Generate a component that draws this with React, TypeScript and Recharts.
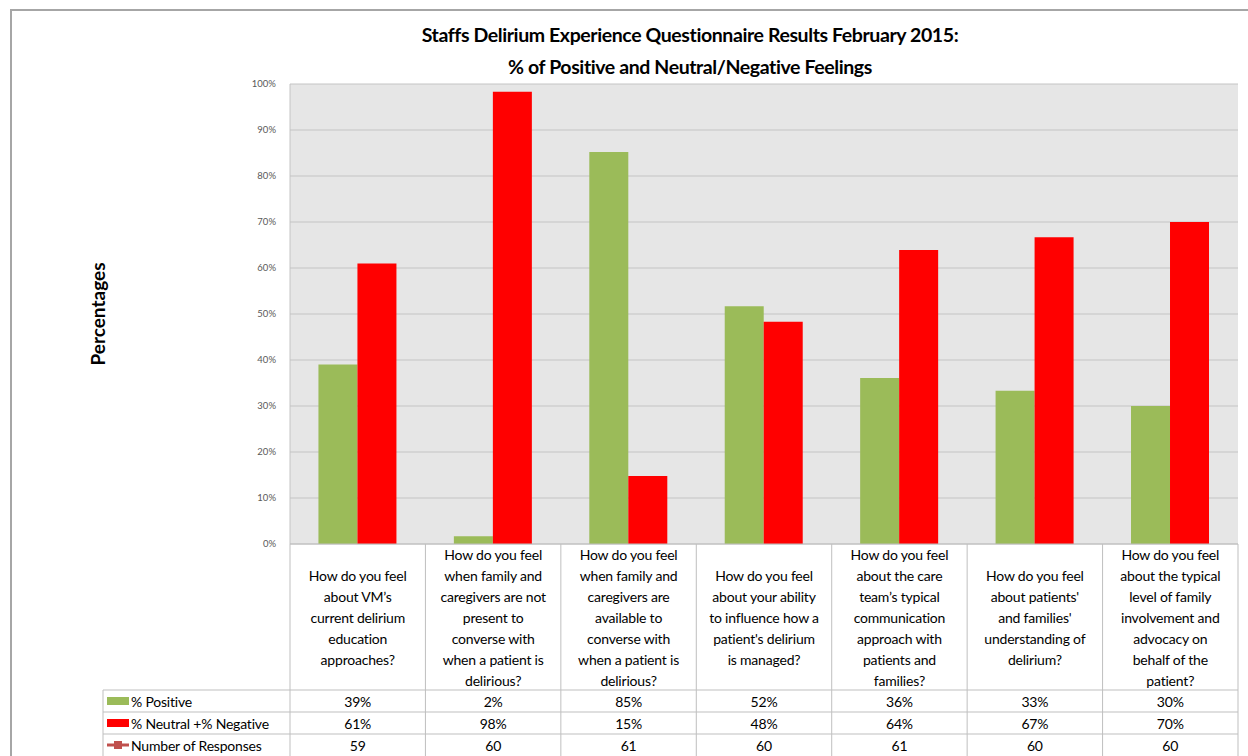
import { BarChart, Bar, XAxis, YAxis, CartesianGrid } from 'recharts';

const categories = [
  'How do you feel\nabout VM’s\ncurrent delirium\neducation\napproaches?',
  'How do you feel\nwhen family and\ncaregivers are not\npresent to\nconverse with\nwhen a patient is\ndelirious?',
  'How do you feel\nwhen family and\ncaregivers are\navailable to\nconverse with\nwhen a patient is\ndelirious?',
  "How do you feel\nabout your ability\nto influence how a\npatient's delirium\nis managed?",
  'How do you feel\nabout the care\nteam’s typical\ncommunication\napproach with\npatients and\nfamilies?',
  "How do you feel\nabout patients'\nand families'\nunderstanding of\ndelirium?",
  'How do you feel\nabout the typical\nlevel of family\ninvolvement and\nadvocacy on\nbehalf of the\npatient?',
];
const positive = [39.0, 1.7, 85.2, 51.7, 36.1, 33.3, 30.0];
const neutralNegative = [61.0, 98.3, 14.8, 48.3, 63.9, 66.7, 70.0];
const responses = [59, 60, 61, 60, 61, 60, 60];
const yTicks = [0, 10, 20, 30, 40, 50, 60, 70, 80, 90, 100];

const seriesNames = ['% Positive', '% Neutral +% Negative', 'Number of Responses'];

const GREEN = '#9bbb59';
const RED = '#ff0000';
const LINE_RED = '#c0504d';
const BORDER = '#bfbfbf';
const FONT = 'Lato, "Open Sans", sans-serif';

// layout of the plot and the data table under it
const PLOT_LEFT = 290;
const PLOT_RIGHT = 1238;
const COL_W = (PLOT_RIGHT - PLOT_LEFT) / categories.length;
const CAT_H = 146;
const ROW_H = 22;
const LINE_H = 21;
const HEAD_W = 187;

const data = categories.map((c, i) => ({
  name: c,
  positive: positive[i],
  negative: neutralNegative[i],
  responses: responses[i],
}));

function LegendKey({ kind, x, y }: { kind: number; x: number; y: number }) {
  if (kind === 0) return <rect x={x} y={y - 4} width={22} height={8} fill={GREEN} />;
  if (kind === 1) return <rect x={x} y={y - 4} width={22} height={8} fill={RED} />;
  return (
    <g>
      <line x1={x} x2={x + 22} y1={y} y2={y} stroke={LINE_RED} strokeWidth={3} />
      <rect x={x + 7} y={y - 4} width={8} height={8} fill={LINE_RED} />
    </g>
  );
}

function TableTick(props: any) {
  const { x, y, payload, index } = props;
  const half = COL_W / 2;
  const lines = String(payload.value).split('\n');
  const mid = y + CAT_H / 2;
  const first = mid - ((lines.length - 1) * LINE_H) / 2;
  const row = data[index];
  const vals = [`${Math.round(row.positive)}%`, `${Math.round(row.negative)}%`, `${row.responses}`];
  const bottom = y + CAT_H + 3 * ROW_H + 10;
  const txt = { fontSize: 14, fontFamily: FONT, fill: '#000', letterSpacing: -0.2 };
  return (
    <g>
      <line x1={x - half} x2={x - half} y1={y} y2={bottom} stroke={BORDER} />
      {index === categories.length - 1 && (
        <line x1={x + half} x2={x + half} y1={y} y2={bottom} stroke={BORDER} />
      )}
      {lines.map((l, i) => (
        <text key={i} x={x} y={first + i * LINE_H} textAnchor="middle" dominantBaseline="central" {...txt}>{l}</text>
      ))}
      {vals.map((v, i) => (
        <g key={i}>
          <line x1={x - half} x2={x + half} y1={y + CAT_H + i * ROW_H} y2={y + CAT_H + i * ROW_H} stroke={BORDER} />
          <text x={x} y={y + CAT_H + i * ROW_H + ROW_H / 2} textAnchor="middle" dominantBaseline="central" {...txt}>{v}</text>
        </g>
      ))}
      {index === 0 && (
        <g>
          <line x1={x - half - HEAD_W} x2={x - half - HEAD_W} y1={y + CAT_H} y2={bottom} stroke={BORDER} />
          {seriesNames.map((s, i) => {
            const ry = y + CAT_H + i * ROW_H;
            return (
              <g key={s}>
                <line x1={x - half - HEAD_W} x2={x - half} y1={ry} y2={ry} stroke={BORDER} />
                <LegendKey kind={i} x={x - half - HEAD_W + 4} y={ry + ROW_H / 2} />
                <text x={x - half - HEAD_W + 28} y={ry + ROW_H / 2} dominantBaseline="central" {...txt}>{s}</text>
              </g>
            );
          })}
        </g>
      )}
    </g>
  );
}

export default function App() {
  return (
    <div style={{ position: 'absolute', left: 0, top: 0, width: 1248, height: 756, background: '#fff', overflow: 'hidden' }}>
      <div style={{ position: 'absolute', left: 10, top: 9, width: 1300, height: 800, borderTop: '2px solid #a6a6a6', borderLeft: '2px solid #a6a6a6' }} />
      <div style={{ position: 'absolute', left: 290, width: 800, top: 19, textAlign: 'center', fontFamily: FONT, fontWeight: 700, fontSize: 19.5, letterSpacing: -0.4, lineHeight: '32px', color: '#000' }}>
        Staffs Delirium Experience Questionnaire Results February 2015:<br />
        % of Positive and Neutral/Negative Feelings
      </div>
      <div style={{ position: 'absolute', left: 97, top: 314, transform: 'translate(-50%, -50%) rotate(-90deg)', fontFamily: FONT, fontWeight: 700, fontSize: 19, whiteSpace: 'nowrap' }}>
        Percentages
      </div>
      <div style={{ position: 'absolute', left: 0, top: 0 }}>
        <BarChart width={1248} height={756} data={data} margin={{ top: 84, right: 1248 - PLOT_RIGHT, bottom: 0, left: 0 }}
          barCategoryGap="21%" barGap={0}>
          <CartesianGrid vertical={false} stroke="#c4c4c4" fill="#e6e6e6" />
          <YAxis width={PLOT_LEFT} domain={[0, 100]} ticks={yTicks} tickFormatter={(v: number) => `${v}%`}
            axisLine={{ stroke: '#c4c4c4' }} tickLine={false} tickMargin={8}
            tick={{ fontSize: 9.5, fill: '#595959', fontFamily: FONT }} />
          <XAxis dataKey="name" height={212} interval={0} tickLine={false} tickSize={0} tickMargin={0}
            axisLine={{ stroke: BORDER }} tick={<TableTick />} />
          <Bar dataKey="positive" fill={GREEN} isAnimationActive={false} />
          <Bar dataKey="negative" fill={RED} isAnimationActive={false} />
        </BarChart>
      </div>
    </div>
  );
}
